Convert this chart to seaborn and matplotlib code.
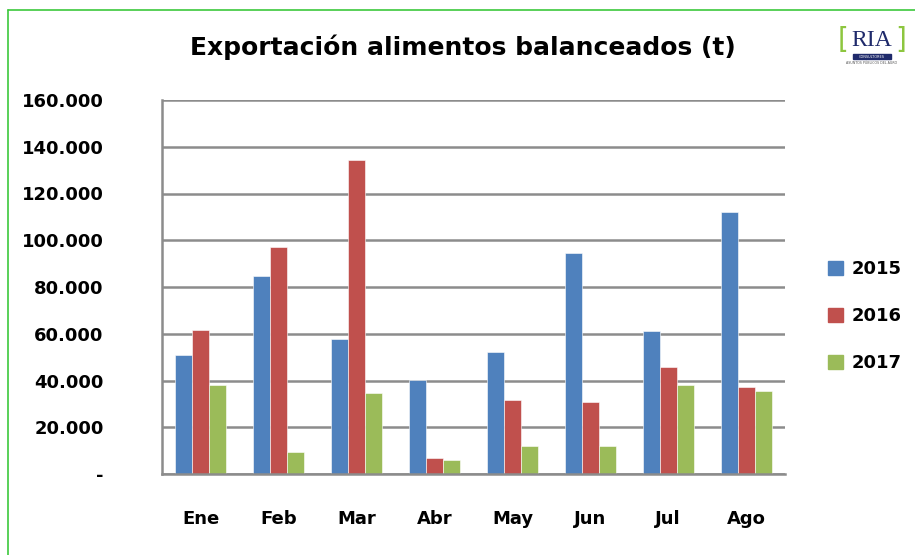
import matplotlib
matplotlib.use("Agg")
import matplotlib.pyplot as plt
import matplotlib.patches as mpatches
from matplotlib.lines import Line2D
from matplotlib.ticker import FuncFormatter
import seaborn as sns
import pandas as pd

months = ["Ene", "Feb", "Mar", "Abr", "May", "Jun", "Jul", "Ago"]
years = ["2015", "2016", "2017"]
v2015 = [51100, 84800, 57800, 40300, 52000, 94700, 61200, 111900]
v2016 = [61800, 97200, 134200, 6800, 31500, 30600, 45600, 37300]
v2017 = [38000, 9300, 34700, 6000, 11800, 11800, 38000, 35600]
yticks = [0, 20000, 40000, 60000, 80000, 100000, 120000, 140000, 160000]
colors = ["#4F81BD", "#C0504D", "#9BBB59"]
title = "Exportación alimentos balanceados (t)"

rows = []
for yr, vals in zip(years, [v2015, v2016, v2017]):
    for m, v in zip(months, vals):
        rows.append({"Mes": m, "Año": yr, "Valor": v})
df = pd.DataFrame(rows)

sns.set_theme(style="white")
plt.rcParams['font.family'] = ['DejaVu Sans']
plt.rcParams['text.color'] = 'black'
plt.rcParams['xtick.color'] = 'black'
plt.rcParams['ytick.color'] = 'black'

fig = plt.figure(figsize=(9.15, 5.55), dpi=100)
ax = fig.add_axes([162/915, 1-474/555, (785-162)/915, (474-100)/555])

sns.barplot(data=df, x="Mes", y="Valor", hue="Año", palette=colors,
            order=months, hue_order=years, width=0.655, saturation=1,
            edgecolor="white", linewidth=0.4, ax=ax, legend=False)

ax.set_ylim(0, 160000)
ax.set_yticks(yticks)
ax.yaxis.set_major_formatter(FuncFormatter(
    lambda v, p: "-" if v == 0 else f"{int(v):,}".replace(",", ".")))
ax.grid(axis="y", color="#8c8c8c", linewidth=1.8)
ax.set_axisbelow(True)
for s in ["top", "right"]:
    ax.spines[s].set_visible(False)
for s in ["left", "bottom"]:
    ax.spines[s].set_color("#8c8c8c")
    ax.spines[s].set_linewidth(1.8)
ax.set_xlim(-0.5, 7.5)
ax.set_xlabel("")
ax.set_ylabel("")
ax.tick_params(axis="y", length=0, pad=42, labelsize=13, labelcolor="black")
ax.tick_params(axis="x", length=0, pad=26, labelsize=13, labelcolor="black")
for lab in ax.get_yticklabels() + ax.get_xticklabels():
    lab.set_fontweight("bold")

fig.text(463/915, 1-47/555, title, ha="center", va="center",
         fontsize=18, fontweight="bold", color="black")

handles = [mpatches.Patch(color=c, label=y) for c, y in zip(colors, years)]
leg = fig.legend(handles=handles, loc="center left", bbox_to_anchor=(812/915, 1-316/555),
                 frameon=False, prop={"weight": "bold", "size": 13},
                 handlelength=0.8, handleheight=0.8, handletextpad=0.5, labelspacing=1.6)
for t in leg.get_texts():
    t.set_color("black")

# logo
fig.text(872/915, 1-40/555, "RIA", ha="center", va="center", fontsize=17,
         color="#1F2A6B", family="Liberation Serif")
fig.text(843/915, 1-40/555, "[", ha="center", va="center", fontsize=20,
         color="#8DC63F", family="DejaVu Sans")
fig.text(901/915, 1-40/555, "]", ha="center", va="center", fontsize=20,
         color="#8DC63F", family="DejaVu Sans")
fig.patches.append(mpatches.Rectangle((853/915, 1-59/555), 38/915, 5/555,
                   transform=fig.transFigure, color="#1F2A6B"))
fig.text(872/915, 1-56.5/555, "CONSULTORES", ha="center", va="center",
         fontsize=2.5, color="white")
fig.text(872/915, 1-63/555, "ASUNTOS PÚBLICOS DEL AGRO", ha="center",
         va="center", fontsize=2.3, color="#555555")

# green border (left and top only)
fig.add_artist(Line2D([8/915, 8/915], [0, 1-10/555], transform=fig.transFigure,
                      color="#3CC83C", linewidth=1.2))
fig.add_artist(Line2D([8/915, 1], [1-10/555, 1-10/555], transform=fig.transFigure,
                      color="#3CC83C", linewidth=1.2))

fig.savefig("out.png", dpi=100)
